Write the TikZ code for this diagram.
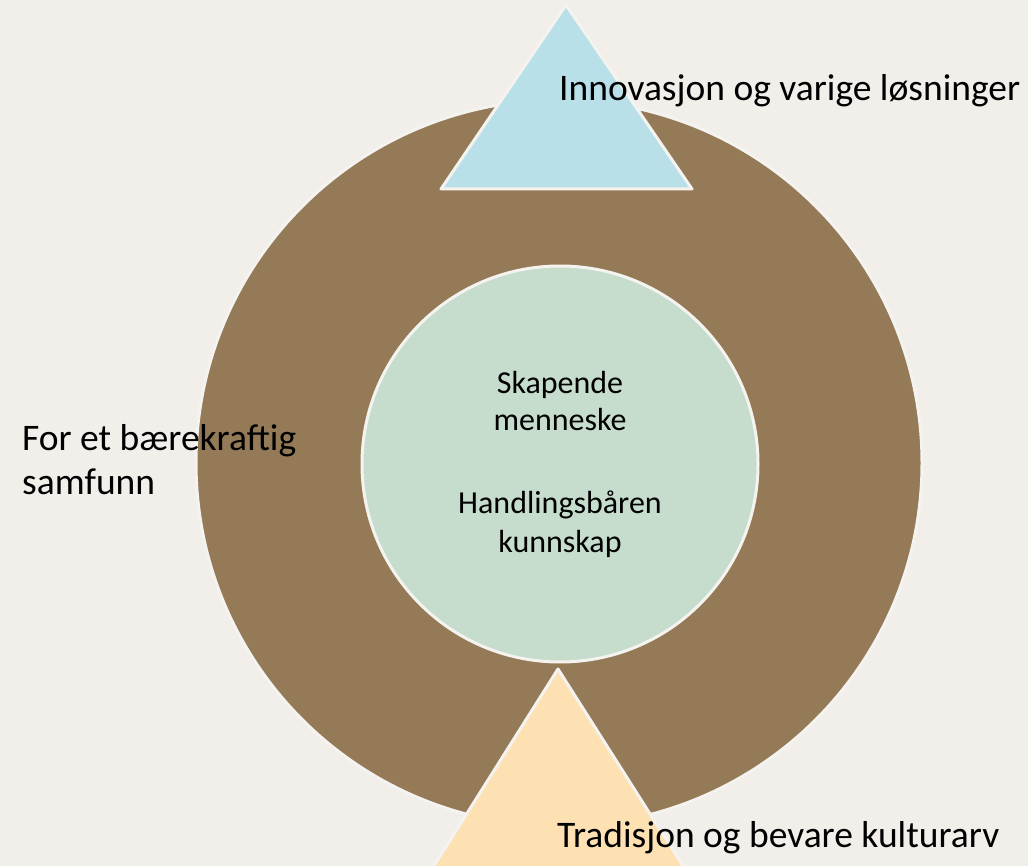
\documentclass[tikz,border=0pt]{standalone}
\usepackage{fontspec}
\setmainfont{Carlito}
\usetikzlibrary{calc}
\definecolor{bg}{HTML}{F2EFEB}
\definecolor{ringbrown}{HTML}{947A57}
\definecolor{coregreen}{HTML}{C6DDCE}
\definecolor{skyblue}{HTML}{B9E0E8}
\definecolor{peach}{HTML}{FDE1B3}
\definecolor{rim}{HTML}{F5F3EF}
\tikzset{outline/.style={draw=rim,line width=3pt,line join=round},
  bigtext/.style={font=\fontsize{37.5}{44}\selectfont,text=black,inner sep=0pt,anchor=base west},
  smalltext/.style={font=\fontsize{32}{37}\selectfont,text=black,inner sep=0pt,anchor=base}}

\begin{document}
\begin{tikzpicture}[x=1pt,y=-1pt]

% Background and page size
\fill[bg] (0,0) rectangle (1028,866);
\useasboundingbox (0,0) rectangle (1028,866);
\clip (0,0) rectangle (1028,866);

% Place centres and triangle corners
\coordinate (C) at (559,463);
\coordinate (top) at (566,5);
\coordinate (topL) at (441,189);
\coordinate (topR) at (692,189);
\coordinate (bot) at (558,669);
\coordinate (botL) at (425,880);
\coordinate (botR) at (692,880);

% Draw ring and core
\node[circle,outline,fill=ringbrown,minimum size=726pt] (ring) at (C) {};
\node[circle,outline,fill=coregreen,minimum size=396pt] (core) at (560,464) {};

% Draw triangles
\draw[outline,fill=skyblue] (top) -- (topR) -- (topL) -- cycle;
\draw[outline,fill=peach] (bot) -- (botR) -- (botL) -- cycle;

% Labels
\node[bigtext] (innov) at (559,101) {Innovasjon og varige løsninger};
\node[bigtext] (trad) at (557,847) {Tradisjon og bevare kulturarv};
\node[bigtext] (samf1) at (22,450) {For et bærekraftig};
\node[bigtext] (samf2) at (22,494) {samfunn};
\node[smalltext] (skap1) at (560,393) {Skapende};
\node[smalltext] (skap2) at (560,430) {menneske};
\node[smalltext] (handl1) at (560,513) {Handlingsbåren};
\node[smalltext] (handl2) at (560,552) {kunnskap};
\end{tikzpicture}
\end{document}
